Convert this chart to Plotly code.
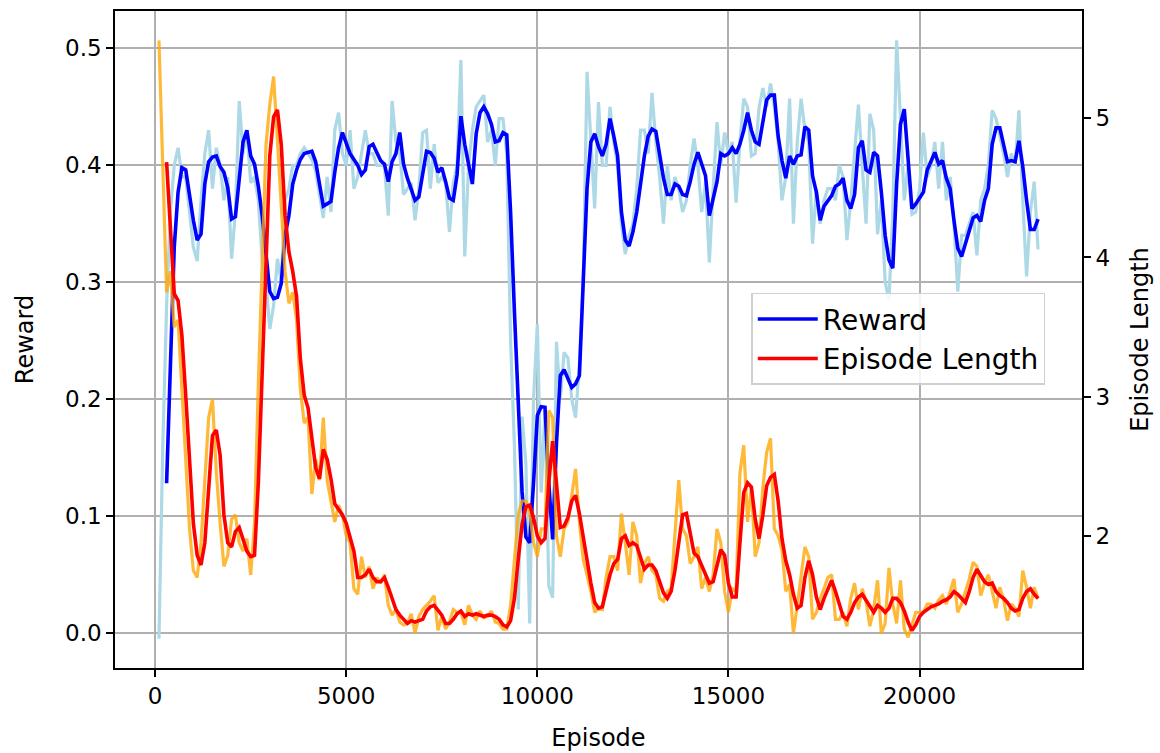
import plotly.graph_objects as go

# Episode index of each logged point (one point every 100 episodes)
episodes = list(range(100, 23200, 100))
# Smoothed curves begin once three points are available
smooth_episodes = episodes[2:]

# Raw reward per logged point
reward_raw = [
    -0.005, 0.16, 0.28, 0.36, 0.40, 0.415, 0.39, 0.39, 0.36, 0.33,
    0.318, 0.37, 0.41, 0.43, 0.38, 0.415, 0.40, 0.37, 0.39, 0.32,
    0.36, 0.455, 0.41, 0.43, 0.385, 0.39, 0.37, 0.32, 0.30, 0.26,
    0.28, 0.32, 0.30, 0.37, 0.38, 0.40, 0.40, 0.41, 0.415, 0.41,
    0.405, 0.395, 0.375, 0.355, 0.39, 0.36, 0.43, 0.445, 0.41, 0.40,
    0.43, 0.38, 0.39, 0.41, 0.43, 0.41, 0.41, 0.40, 0.40, 0.40,
    0.357, 0.455, 0.42, 0.41, 0.375, 0.38, 0.385, 0.353, 0.38, 0.428,
    0.43, 0.38, 0.418, 0.385, 0.39, 0.385, 0.343, 0.385, 0.40, 0.49,
    0.322, 0.40, 0.43, 0.45, 0.455, 0.46, 0.42, 0.43, 0.40, 0.44,
    0.44, 0.41, 0.25, 0.16, 0.02, 0.185, 0.145, 0.008, 0.20, 0.264,
    0.12, 0.19, 0.04, 0.03, 0.249, 0.20, 0.24, 0.235, 0.20, 0.184,
    0.23, 0.30, 0.48, 0.42, 0.363, 0.454, 0.40, 0.40, 0.45, 0.42,
    0.40, 0.35, 0.324, 0.34, 0.35, 0.38, 0.43, 0.43, 0.41, 0.462,
    0.42, 0.39, 0.35, 0.40, 0.37, 0.39, 0.38, 0.36, 0.37, 0.40,
    0.423, 0.40, 0.36, 0.385, 0.317, 0.38, 0.437, 0.40, 0.428, 0.41,
    0.42, 0.368, 0.42, 0.457, 0.45, 0.408, 0.41, 0.449, 0.466, 0.45,
    0.47, 0.45, 0.42, 0.37, 0.39, 0.457, 0.35, 0.42, 0.457, 0.43,
    0.42, 0.333, 0.38, 0.35, 0.37, 0.38, 0.38, 0.37, 0.40, 0.39,
    0.336, 0.37, 0.41, 0.452, 0.40, 0.35, 0.444, 0.43, 0.341, 0.37,
    0.30, 0.285, 0.36, 0.507, 0.44, 0.37, 0.40, 0.358, 0.36, 0.38,
    0.428, 0.39, 0.40, 0.42, 0.38, 0.42, 0.37, 0.39, 0.35, 0.292,
    0.34, 0.34, 0.35, 0.36, 0.323, 0.37, 0.38, 0.40, 0.447, 0.44,
    0.425, 0.41, 0.39, 0.41, 0.40, 0.447, 0.37, 0.305, 0.36, 0.386,
    0.328,
]

# Smoothed reward (from episode 300 onwards)
reward_smooth = [
    0.128, 0.22, 0.33, 0.377, 0.398, 0.396, 0.374, 0.353,
    0.336, 0.341, 0.384, 0.403, 0.407, 0.408, 0.399, 0.394, 0.381, 0.354,
    0.356, 0.392, 0.42, 0.43, 0.408, 0.401, 0.382, 0.357, 0.326, 0.292,
    0.286, 0.287, 0.299, 0.34, 0.357, 0.384, 0.396, 0.405, 0.41, 0.411,
    0.412, 0.403, 0.384, 0.365, 0.367, 0.369, 0.394, 0.415, 0.428, 0.418,
    0.41, 0.405, 0.40, 0.392, 0.396, 0.416, 0.418, 0.411, 0.404, 0.401,
    0.386, 0.403, 0.41, 0.428, 0.401, 0.389, 0.379, 0.37, 0.373, 0.391,
    0.412, 0.411, 0.406, 0.394, 0.398, 0.386, 0.372, 0.37, 0.392, 0.442,
    0.418, 0.401, 0.384, 0.427, 0.445, 0.45, 0.444, 0.435, 0.42, 0.421,
    0.428, 0.426, 0.36, 0.275, 0.20, 0.121, 0.082, 0.077, 0.128, 0.186,
    0.1935, 0.193, 0.128, 0.08, 0.162, 0.22, 0.225, 0.218, 0.21, 0.213,
    0.22, 0.30, 0.38, 0.42, 0.427, 0.416, 0.408, 0.418, 0.44, 0.425,
    0.408, 0.36, 0.336, 0.331, 0.343, 0.36, 0.387, 0.408, 0.425, 0.431,
    0.429, 0.41, 0.389, 0.375, 0.375, 0.384, 0.382, 0.375, 0.374, 0.386,
    0.401, 0.411, 0.401, 0.391, 0.357, 0.37, 0.386, 0.41, 0.408, 0.41,
    0.415, 0.41, 0.418, 0.43, 0.445, 0.43, 0.42, 0.418, 0.435, 0.456,
    0.46, 0.46, 0.425, 0.404, 0.389, 0.408, 0.401, 0.408, 0.409, 0.433,
    0.43, 0.391, 0.377, 0.353, 0.365, 0.369, 0.374, 0.382, 0.384, 0.389,
    0.37, 0.363, 0.375, 0.415, 0.421, 0.396, 0.394, 0.411, 0.408, 0.377,
    0.34, 0.319, 0.312, 0.384, 0.435, 0.448, 0.41, 0.363, 0.367, 0.372,
    0.377, 0.396, 0.404, 0.411, 0.401, 0.404, 0.389, 0.38, 0.353, 0.329,
    0.322, 0.333, 0.346, 0.355, 0.357, 0.352, 0.37, 0.38, 0.418, 0.432,
    0.432, 0.418, 0.403, 0.404, 0.403, 0.421, 0.399, 0.37, 0.345, 0.345,
    0.354,
]

# Raw episode length per logged point
length_raw = [
    5.56, 4.62, 3.75, 3.90, 3.50, 3.55, 3.05, 2.50, 2.05, 1.75,
    1.70, 1.95, 2.45, 2.85, 2.98, 2.46, 2.09, 1.78, 1.86, 2.12,
    2.15, 1.95, 1.89, 1.98, 1.72, 2.09, 3.09, 3.95, 4.81, 5.10,
    5.30, 4.84, 4.38, 3.90, 3.67, 3.75, 3.55, 3.05, 2.81, 2.85,
    2.30, 2.55, 2.40, 2.85, 2.40, 2.25, 2.10, 2.22, 2.15, 2.00,
    1.95, 1.62, 1.58, 1.85, 1.70, 1.78, 1.62, 1.70, 1.66, 1.72,
    1.50, 1.43, 1.47, 1.38, 1.36, 1.37, 1.44, 1.30, 1.42, 1.47,
    1.50, 1.53, 1.57, 1.32, 1.42, 1.33, 1.38, 1.47, 1.45, 1.45,
    1.36, 1.50, 1.43, 1.40, 1.46, 1.41, 1.42, 1.46, 1.38, 1.37,
    1.33, 1.33, 1.50, 1.80, 2.15, 2.25, 2.25, 2.17, 1.95, 1.85,
    2.05, 2.05, 2.90, 2.85, 2.00, 1.85, 2.05, 2.10, 2.30, 2.48,
    2.10, 1.83, 1.72, 1.60, 1.45, 1.48, 1.47, 1.70, 1.85, 1.85,
    1.75, 2.16, 1.95, 1.72, 2.10, 2.00, 1.66, 1.80, 1.85, 1.75,
    1.72, 1.55, 1.53, 1.60, 1.62, 2.00, 2.40, 2.05, 2.00, 1.80,
    1.85, 1.92, 1.62, 1.70, 1.60, 1.72, 2.05, 1.95, 1.60, 1.45,
    1.62, 1.60, 2.45, 2.65, 2.10, 2.35, 1.85, 1.95, 2.35, 2.60,
    2.70, 2.05, 2.00, 1.90, 1.60, 1.65, 1.30, 1.50, 1.70, 1.92,
    1.85, 1.40, 1.45, 1.55, 1.62, 1.70, 1.72, 1.40, 1.40, 1.45,
    1.35, 1.55, 1.66, 1.47, 1.62, 1.53, 1.35, 1.47, 1.68, 1.30,
    1.37, 1.77, 1.51, 1.37, 1.68, 1.33, 1.27, 1.36, 1.45, 1.45,
    1.45, 1.51, 1.51, 1.48, 1.54, 1.57, 1.51, 1.60, 1.69, 1.45,
    1.51, 1.60, 1.69, 1.81, 1.78, 1.57, 1.66, 1.72, 1.60, 1.48,
    1.63, 1.54, 1.39, 1.51, 1.48, 1.42, 1.75, 1.63, 1.48, 1.63,
    1.55,
]

# Smoothed episode length (from episode 300 onwards)
length_smooth = [
    4.685, 4.15, 3.74, 3.69, 3.44, 3.01, 2.52, 2.09,
    1.86, 1.79, 1.95, 2.38, 2.72, 2.76, 2.58, 2.15, 1.95, 1.92,
    2.03, 2.06, 1.98, 1.89, 1.85, 1.86, 2.38, 3.09, 3.95, 4.73,
    5.01, 5.06, 4.81, 4.30, 4.04, 3.90, 3.72, 3.27, 3.01, 2.92,
    2.69, 2.49, 2.41, 2.62, 2.55, 2.41, 2.23, 2.19, 2.15, 2.09,
    2.00, 1.89, 1.70, 1.70, 1.72, 1.76, 1.70, 1.67, 1.67, 1.70,
    1.63, 1.55, 1.47, 1.43, 1.40, 1.37, 1.39, 1.38, 1.39, 1.40,
    1.46, 1.49, 1.50, 1.46, 1.43, 1.37, 1.37, 1.40, 1.44, 1.46,
    1.42, 1.44, 1.43, 1.44, 1.43, 1.42, 1.43, 1.43, 1.42, 1.40,
    1.36, 1.345, 1.39, 1.55, 1.83, 2.08, 2.21, 2.22, 2.13, 2.00,
    1.95, 1.98, 2.38, 2.68, 2.38, 2.06, 2.07, 2.13, 2.25, 2.29,
    2.16, 1.98, 1.82, 1.66, 1.52, 1.48, 1.49, 1.60, 1.72, 1.80,
    1.83, 1.98, 2.00, 1.93, 1.95, 1.93, 1.85, 1.76, 1.79, 1.79,
    1.75, 1.66, 1.59, 1.55, 1.60, 1.75, 1.95, 2.15, 2.16, 2.00,
    1.875, 1.85, 1.79, 1.72, 1.66, 1.67, 1.79, 1.90, 1.86, 1.66,
    1.56, 1.56, 1.95, 2.31, 2.38, 2.35, 2.12, 1.98, 2.15, 2.36,
    2.42, 2.44, 2.25, 1.98, 1.82, 1.72, 1.58, 1.48, 1.50, 1.70,
    1.82, 1.72, 1.56, 1.47, 1.55, 1.62, 1.68, 1.60, 1.50, 1.42,
    1.40, 1.45, 1.52, 1.56, 1.58, 1.54, 1.50, 1.45, 1.50, 1.48,
    1.45, 1.48, 1.55, 1.55, 1.52, 1.46, 1.38, 1.32, 1.36, 1.42,
    1.45, 1.47, 1.49, 1.50, 1.51, 1.53, 1.54, 1.56, 1.60, 1.58,
    1.55, 1.52, 1.60, 1.70, 1.76, 1.72, 1.67, 1.65, 1.66, 1.60,
    1.57, 1.55, 1.52, 1.48, 1.46, 1.47, 1.55, 1.60, 1.62, 1.58,
    1.55,
]

x_ticks = [0, 5000, 10000, 15000, 20000]
reward_ticks = [0.0, 0.1, 0.2, 0.3, 0.4, 0.5]
length_ticks = [2, 3, 4, 5]

FONT = "DejaVu Sans, Liberation Sans, sans-serif"
TICK_SIZE = 23
TITLE_SIZE = 24

fig = go.Figure()

# Reward on the left axis
fig.add_trace(go.Scatter(
    x=episodes, y=reward_raw, mode="lines", showlegend=False,
    line=dict(color="#ADD8E6", width=3.2), hoverinfo="skip", yaxis="y"))
fig.add_trace(go.Scatter(
    x=smooth_episodes, y=reward_smooth, mode="lines", name="Reward",
    line=dict(color="#0000FF", width=3.6), yaxis="y"))

# Episode length on the right axis (drawn above the reward curves)
fig.add_trace(go.Scatter(
    x=episodes, y=length_raw, mode="lines", showlegend=False,
    line=dict(color="rgba(255,165,0,0.78)", width=3.2), hoverinfo="skip", yaxis="y2"))
fig.add_trace(go.Scatter(
    x=smooth_episodes, y=length_smooth, mode="lines", name="Episode Length",
    line=dict(color="#FF0000", width=3.6), yaxis="y2"))

axis_common = dict(
    ticks="outside", ticklen=7, tickwidth=1.5, tickcolor="black",
    showline=True, linecolor="black", linewidth=1.6,
    tickfont=dict(family=FONT, size=TICK_SIZE, color="black"),
    zeroline=False,
)

fig.update_layout(
    width=1160, height=753,
    margin=dict(l=115, r=78, t=11, b=85),
    paper_bgcolor="white", plot_bgcolor="white",
    font=dict(family=FONT, size=TICK_SIZE, color="black"),
    xaxis=dict(
        range=[-1050, 24250], tickvals=x_ticks, tickformat="d",
        showgrid=True, gridcolor="#b0b0b0", gridwidth=1.6, mirror=True,
        automargin=False,
        title=dict(text="Episode", font=dict(family=FONT, size=TITLE_SIZE), standoff=21),
        **axis_common),
    yaxis=dict(
        range=[-0.0301, 0.532], tickvals=reward_ticks, tickformat=".1f",
        showgrid=True, gridcolor="#b0b0b0", gridwidth=1.6, mirror=True,
        automargin=False,
        title=dict(text="Reward", font=dict(family=FONT, size=TITLE_SIZE), standoff=25),
        **axis_common),
    yaxis2=dict(
        range=[1.050, 5.771], tickvals=length_ticks, tickformat="d",
        overlaying="y", side="right", showgrid=False, automargin=False,
        title=dict(text="Episode Length", font=dict(family=FONT, size=TITLE_SIZE), standoff=22),
        **axis_common),
    legend=dict(
        x=0.658, y=0.571, xanchor="left", yanchor="top",
        bgcolor="rgba(255,255,255,0.85)", bordercolor="#d0d0d0", borderwidth=1.5,
        font=dict(family=FONT, size=28, color="black"),
        itemwidth=60, tracegroupgap=4,
    ),
)

fig.write_html("out.html")
